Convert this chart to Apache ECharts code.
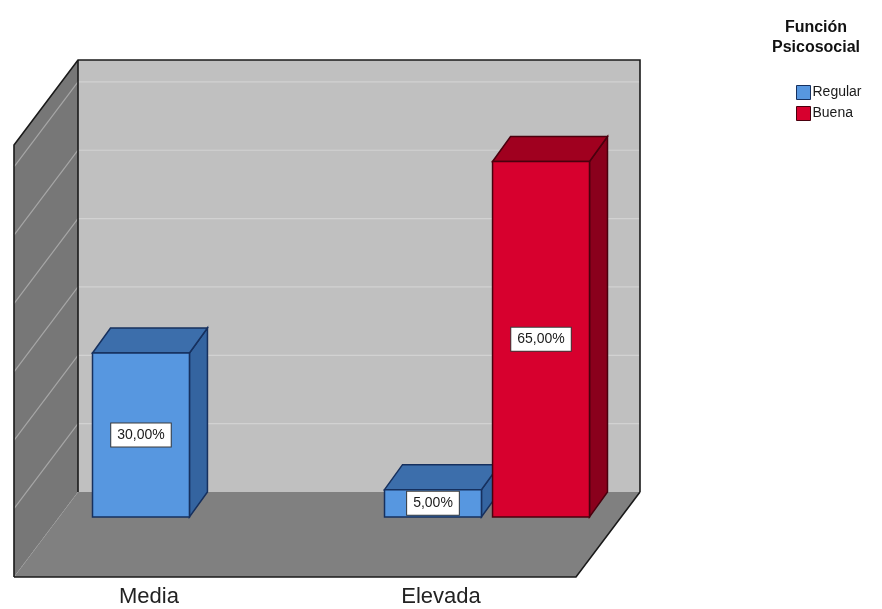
<!DOCTYPE html>
<html>
<head>
<meta charset="utf-8">
<script src="https://cdn.jsdelivr.net/npm/echarts@6/dist/echarts.min.js"></script>
<style>
  html, body { margin: 0; padding: 0; background: #ffffff; }
  #chart { width: 882px; height: 609px; }
</style>
</head>
<body>
<div id="chart"></div>
<script>
// Categories and series values (percent of cases)
const categories = ['Media', 'Elevada'];
const seriesNames = ['Regular', 'Buena'];
const regularValues = [30, 5];
const buenaValues = [0, 65];
// Horizontal reference lines drawn on the back wall and left wall
const gridValues = [12.5, 25, 37.5, 50, 62.5, 75];
const axisMax = 79;

// Styling of the pseudo-3D box and bars
const BAR_DEPTH = [18, -25];     // front face -> back face of each bar
const FLOOR_FRONT = [-46, 60];   // front face plane -> front edge of floor
const WALL_INSET = 11;           // walls inset from the category bands
const BAR_RATIO = 0.332;         // bar width relative to band
const SLOT_RATIO = 0.37;         // distance between cluster members relative to band
const FONT = '"Liberation Sans", Arial, sans-serif';

const palette = {
  Regular: { front: '#5797e0', top: '#3c6eab', side: '#3464a0', edge: '#16305e' },
  Buena:   { front: '#d7002e', top: '#a0001f', side: '#8a001c', edge: '#4a000e' }
};

function fmt(v) {
  return v.toFixed(2).replace('.', ',') + '%';
}

function renderFrame(params, api) {
  const cs = params.coordSys;
  const y0 = api.coord([0, 0])[1];
  const yT = api.coord([0, axisMax])[1];
  const xl = cs.x + WALL_INSET;
  const xr = cs.x + cs.width - WALL_INSET;
  const bx = BAR_DEPTH[0], by = BAR_DEPTH[1];
  const fx = FLOOR_FRONT[0], fy = FLOOR_FRONT[1];

  const children = [];
  // back wall
  children.push({ type: 'polygon', shape: { points: [[xl + bx, yT + by], [xr + bx, yT + by], [xr + bx, y0 + by], [xl + bx, y0 + by]] },
    style: { fill: '#c0c0c0', stroke: null } });
  // left wall
  children.push({ type: 'polygon', shape: { points: [[xl + bx, yT + by], [xl + bx, y0 + by], [xl + fx, y0 + fy], [xl + fx, yT + fy]] },
    style: { fill: '#777777', stroke: null } });
  // floor
  children.push({ type: 'polygon', shape: { points: [[xl + bx, y0 + by], [xr + bx, y0 + by], [xr + fx, y0 + fy], [xl + fx, y0 + fy]] },
    style: { fill: '#808080', stroke: null } });
  // reference lines
  gridValues.forEach(function (v) {
    const y = api.coord([0, v])[1];
    children.push({ type: 'line', shape: { x1: xl + bx, y1: y + by, x2: xr + bx, y2: y + by },
      style: { stroke: '#d2d2d2', lineWidth: 1.2 } });
    children.push({ type: 'line', shape: { x1: xl + bx, y1: y + by, x2: xl + fx, y2: y + fy },
      style: { stroke: '#a6a6a6', lineWidth: 1.2 } });
  });
  // faint seam between floor and left wall
  children.push({ type: 'line', shape: { x1: xl + bx, y1: y0 + by, x2: xl + fx, y2: y0 + fy },
    style: { stroke: '#9a9a9a', lineWidth: 1, lineDash: [2, 2] } });
  // dark edges
  const edge = { stroke: '#1a1a1a', lineWidth: 1.6, fill: null };
  children.push({ type: 'polyline', shape: { points: [[xl + fx, y0 + fy], [xl + fx, yT + fy], [xl + bx, yT + by], [xr + bx, yT + by], [xr + bx, y0 + by]] }, style: edge });
  children.push({ type: 'line', shape: { x1: xl + bx, y1: yT + by, x2: xl + bx, y2: y0 + by }, style: edge });
  children.push({ type: 'polyline', shape: { points: [[xl + fx, y0 + fy], [xr + fx, y0 + fy], [xr + bx, y0 + by]] }, style: edge });
  return { type: 'group', children: children };
}

function makeBarRenderer(slot, name) {
  const col = palette[name];
  return function (params, api) {
    const cat = api.value(0);
    const val = api.value(1);
    if (!val) return null;
    const band = api.size([1, 0])[0];
    const w = band * BAR_RATIO;
    const base = api.coord([cat, 0]);
    const top = api.coord([cat, val]);
    const cx = base[0] + slot * band * SLOT_RATIO / 2;
    const x0 = cx - w / 2, x1 = cx + w / 2;
    const yb = base[1], yt = top[1];
    const dx = BAR_DEPTH[0], dy = BAR_DEPTH[1];
    const lw = 1.5;
    return {
      type: 'group',
      children: [
        { type: 'polygon', shape: { points: [[x1, yt], [x1 + dx, yt + dy], [x1 + dx, yb + dy], [x1, yb]] },
          style: { fill: col.side, stroke: col.edge, lineWidth: lw } },
        { type: 'polygon', shape: { points: [[x0, yt], [x0 + dx, yt + dy], [x1 + dx, yt + dy], [x1, yt]] },
          style: { fill: col.top, stroke: col.edge, lineWidth: lw } },
        { type: 'rect', shape: { x: x0, y: yt, width: w, height: yb - yt },
          style: { fill: col.front, stroke: col.edge, lineWidth: lw } },
        { type: 'text', z2: 10,
          style: { text: fmt(val), x: cx, y: (yt + yb) / 2, align: 'center', verticalAlign: 'middle',
            fill: '#1a1a1a', font: '14px ' + FONT,
            backgroundColor: '#ffffff', borderColor: '#3a3a3a', borderWidth: 1, padding: [5, 6, 4, 6] } }
      ]
    };
  };
}

const chart = echarts.init(document.getElementById('chart'), null, { renderer: 'canvas' });

const option = {
  backgroundColor: '#ffffff',
  animation: false,
  title: {
    text: 'Función\nPsicosocial',
    left: 811, top: 13, textAlign: 'center',
    textStyle: { fontSize: 16, fontWeight: 'bold', color: '#111', lineHeight: 20, fontFamily: FONT }
  },
  legend: {
    orient: 'vertical', left: 791, top: 80,
    itemWidth: 14, itemHeight: 14, itemGap: 6, icon: 'rect',
    textStyle: { fontSize: 14, color: '#1a1a1a', padding: [0, 0, 0, -3], fontFamily: FONT },
    data: [
      { name: seriesNames[0], itemStyle: { color: palette.Regular.front, borderColor: palette.Regular.edge, borderWidth: 1 } },
      { name: seriesNames[1], itemStyle: { color: palette.Buena.front, borderColor: palette.Buena.edge, borderWidth: 1 } }
    ]
  },
  grid: { left: 49, right: 249, top: 85, bottom: 92 },
  xAxis: {
    type: 'category', data: categories,
    axisLine: { show: false }, axisTick: { show: false }, splitLine: { show: false },
    axisLabel: { margin: 69, fontSize: 22, color: '#222', padding: [0, 92, 0, 0], fontFamily: FONT }
  },
  yAxis: {
    type: 'value', min: 0, max: axisMax, interval: 12.5,
    axisLine: { show: false }, axisTick: { show: false }, axisLabel: { show: false }, splitLine: { show: false }
  },
  series: [
    { name: 'marco', type: 'custom', silent: true, z: 1, renderItem: renderFrame, data: [[0, 0]], encode: { x: 0, y: 1 } },
    { name: seriesNames[0], type: 'custom', z: 2, renderItem: makeBarRenderer(-1, 'Regular'),
      itemStyle: { color: palette.Regular.front },
      data: categories.map(function (c, i) { return [i, regularValues[i]]; }), encode: { x: 0, y: 1 } },
    { name: seriesNames[1], type: 'custom', z: 3, renderItem: makeBarRenderer(1, 'Buena'),
      itemStyle: { color: palette.Buena.front },
      data: categories.map(function (c, i) { return [i, buenaValues[i]]; }), encode: { x: 0, y: 1 } }
  ]
};

chart.setOption(option);
</script>
</body>
</html>
